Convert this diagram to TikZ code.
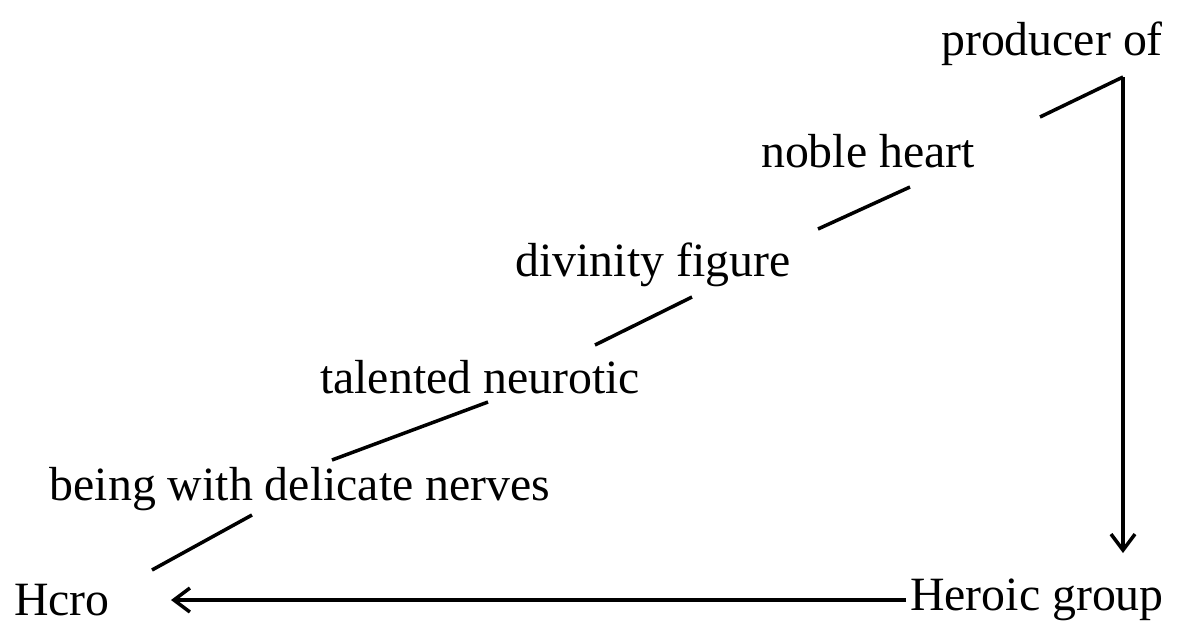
\documentclass[tikz,border=0pt]{standalone}
\usepackage{fontspec}
\setmainfont{Liberation Serif}
\usepackage{tikz}
\usetikzlibrary{arrows.meta}

\begin{document}
\begin{tikzpicture}[
  font=\fontsize{13.6}{16}\selectfont,
  lbl/.style={inner sep=1pt},
  ln/.style={line width=1pt},
  arr/.style={-{Straight Barb[length=1.6mm, width=2.4mm]}, line width=1pt}
]
\useasboundingbox (0,0) rectangle (11.83,6.25);
% labels
\node[lbl] (hero) at (0.62,0.25) {Hcro};
\node[lbl] (group) at (10.37,0.25) {Heroic group};
\node[lbl] (nerves) at (3.00,1.36) {being with delicate nerves};
\node[lbl] (neurotic) at (4.80,2.48) {talented neurotic};
\node[lbl] (divinity) at (6.53,3.60) {divinity figure};
\node[lbl] (noble) at (8.68,4.74) {noble heart};
\node[lbl] (producer) at (10.52,5.81) {producer of};
% rising line, broken by the labels
\coordinate (s1a) at (1.52,0.55);
\coordinate (s1b) at (2.52,1.10);
\coordinate (s2a) at (3.32,1.65);
\coordinate (s2b) at (4.88,2.23);
\coordinate (s3a) at (5.95,2.80);
\coordinate (s3b) at (6.92,3.28);
\coordinate (s4a) at (8.18,3.96);
\coordinate (s4b) at (9.10,4.38);
\coordinate (s5a) at (10.40,5.08);
\coordinate (top) at (11.23,5.48);
\coordinate (tip) at (11.23,0.72);
\draw[ln] (s1a) -- (s1b);
\draw[ln] (s2a) -- (s2b);
\draw[ln] (s3a) -- (s3b);
\draw[ln] (s4a) -- (s4b);
\draw[ln] (s5a) -- (top);
% arrows
\draw[arr] (top) -- (tip);
\draw[arr, shorten >=5.7mm] (group.west) -- (group.west -| hero.east);
\end{tikzpicture}
\end{document}
